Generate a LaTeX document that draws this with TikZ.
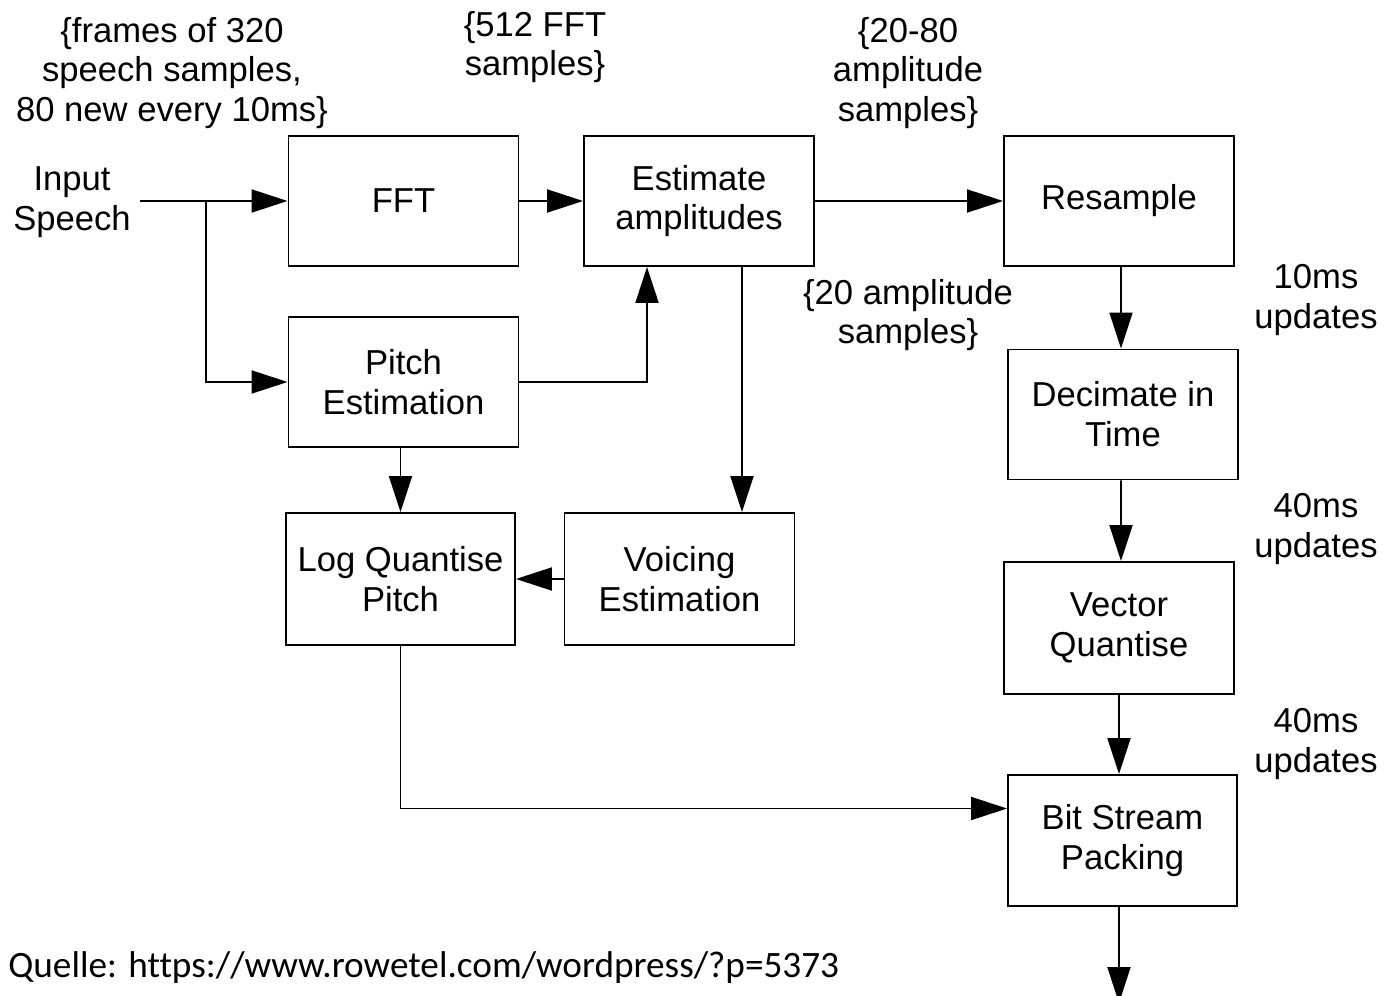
\documentclass[tikz,border=0pt]{standalone}
\usepackage{fontspec}
\setmainfont{Liberation Sans}
\newfontfamily\quellefont[Ligatures=NoCommon]{Carlito}
\usetikzlibrary{arrows.meta}
\begin{document}
\begin{tikzpicture}[x=0.02cm,y=-0.02cm,
  every node/.style={font=\fontsize{19.7}{22.7}\selectfont, align=center, inner sep=0pt},
  blk/.style={draw, line width=1.1pt, minimum width=4.6cm, minimum height=2.6cm},
  conn/.style={line width=1.1pt, -{Triangle[length=0.72cm,width=0.46cm]}},
  plain/.style={line width=1.1pt}]
\useasboundingbox (0,0) rectangle (1384,996);
% boxes
\node[blk] (fft) at (403.5,201) {FFT};
\node[blk] (est) at (699,201) {Estimate\\amplitudes};
\node[blk] (res) at (1119,201) {Resample};
\node[blk] (pit) at (403.5,382) {Pitch\\Estimation};
\node[blk] (dec) at (1123,414.5) {Decimate in\\Time};
\node[blk, minimum width=4.58cm, minimum height=2.64cm] (lqp) at (400.5,579) {Log Quantise\\Pitch};
\node[blk, minimum height=2.64cm] (voi) at (679.5,579) {Voicing\\Estimation};
\node[blk, minimum height=2.64cm] (vq) at (1119,628) {Vector\\Quantise};
\node[blk, minimum width=4.58cm, minimum height=2.62cm] (bsp) at (1122.5,840.5) {Bit Stream\\Packing};
% labels
\node (inp) at (72,202) {Input\\Speech};
\node (l1) at (172,73) {\{frames of 320\\speech samples,\\80 new every 10ms\}};
\node (l2) at (535,47) {\{512 FFT\\samples\}};
\node (l3) at (908,73) {\{20-80\\amplitude\\samples\}};
\node (l4) at (908,315) {\{20 amplitude\\samples\}};
\node (u1) at (1316,300) {10ms\\updates};
\node (u2) at (1316,529) {40ms\\updates};
\node (u3) at (1316,744) {40ms\\updates};
\node[anchor=west, font=\quellefont\fontsize{21.2}{24}\selectfont] (q) at (8,968) {Quelle: https://www.rowetel.com/wordpress/?p=5373};
% connectors
\coordinate (s) at (140,201);
\coordinate (br) at (206,201);
\coordinate (out) at (1119,1003);
\draw[conn] (s) -- (fft.west);
\draw[conn] (br) |- (pit.west);
\draw[conn] (fft.east) -- (est.west);
\draw[conn] (est.east) -- (res.west);
\draw[conn] (pit.east) -| ([xshift=-1.04cm]est.south);
\draw[conn] ([xshift=0.86cm]est.south) -- ([xshift=0.86cm]est.south |- voi.north);
\draw[conn] (lqp.north |- pit.south) -- (lqp.north);
\draw[conn] (voi.west) -- (lqp.east);
\draw[conn] (lqp.south) |- ([yshift=0.64cm]bsp.west);
\draw[conn] ([xshift=0.04cm]res.south) -- ([xshift=-0.04cm]dec.north);
\draw[conn] ([xshift=-0.04cm]dec.south) -- ([xshift=0.04cm]vq.north);
\draw[conn] (vq.south) -- (vq.south |- bsp.north);
\draw[conn] (vq.south |- bsp.south) -- (out);
\end{tikzpicture}
\end{document}
